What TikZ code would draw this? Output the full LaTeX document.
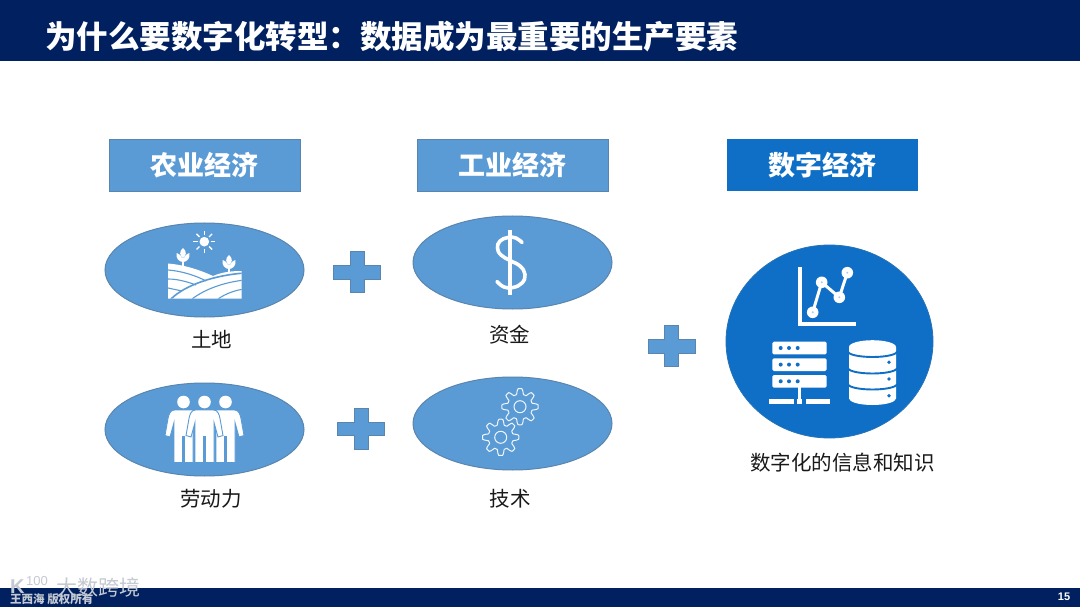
\documentclass[tikz,border=0pt]{standalone}
\usepackage{fontspec}
\setmainfont{Liberation Sans}
\newfontfamily\cjk{Noto Sans CJK SC}
\definecolor{navy}{HTML}{002060}
\definecolor{midblue}{HTML}{5B9BD5}
\definecolor{edgeblue}{HTML}{5A85AE}
\definecolor{deepblue}{HTML}{0F6FC6}
\definecolor{wmark}{HTML}{C4C9D2}
\tikzset{
  headbox/.style={minimum width=191pt,minimum height=52pt,inner sep=0pt,text=white,font=\cjk\bfseries\fontsize{27}{30}\selectfont},
  labeltext/.style={inner sep=0pt,text=black!90,font=\cjk\fontsize{20.5}{24}\selectfont},
  oval/.style={ellipse,draw=edgeblue,fill=midblue,line width=1pt,inner sep=0pt},
  plusmark/.style={fill=midblue,draw=edgeblue,line width=.7pt},
  pics/plussign/.style={code={
    \path[plusmark] (-23.5,-6.5)--(-7,-6.5)--(-7,-20.5)--(7,-20.5)--(7,-6.5)--(23.5,-6.5)--(23.5,7)--(7,7)--(7,20.5)--(-7,20.5)--(-7,7)--(-23.5,7)--cycle;
  }},
  pics/gearicon/.style={code={
    \draw[white!90!midblue,line width=1pt] plot[domain=0:360,samples=121,smooth] (\x:{15.3+2.8*max(min(1.7*cos(8*\x),1),-1)}) -- cycle;
    \draw[white!90!midblue,line width=1pt] (0,0) circle (6);
  }},
  pics/person/.style={code={
    \fill[white] (0,-27.5) circle (6.3);
    \path[fill=white,draw=midblue,line width=.9pt] (-9,-19.5)--(9,-19.5) to[out=0,in=100] (15.5,-11) -- (18.5,6) -- (13.5,7.5) -- (9.5,-7)
      -- (9.5,33) -- (.9,33) -- (.9,7) -- (-.9,7) -- (-.9,33) -- (-9.5,33) -- (-9.5,-7) -- (-13.5,7.5) -- (-18.5,6) -- (-15.5,-11) to[out=80,in=180] cycle;
  }},
}
\usetikzlibrary{shapes.geometric}
\begin{document}
\begin{tikzpicture}[x=1pt,y=-1pt]
\useasboundingbox (0,0) rectangle (1080,607);
\fill[white] (0,0) rectangle (1080,607);
\fill[navy] (0,0) rectangle (1080,61);
\fill[navy] (0,588) rectangle (1080,607);
\node[anchor=west,inner sep=0pt,text=white,font=\cjk\bfseries\fontsize{31.5}{36}\selectfont] (title) at (45,36) {为什么要数字化转型：数据成为最重要的生产要素};

% headers
\node[headbox,fill=midblue,draw=edgeblue,line width=.8pt] (h1) at (204.5,165) {农业经济};
\node[headbox,fill=midblue,draw=edgeblue,line width=.8pt] (h2) at (512.5,165) {工业经济};
\node[headbox,fill=deepblue] (h3) at (822.5,165) {数字经济};

% ovals
\node[oval,minimum width=199pt,minimum height=94pt] (land) at (204.5,270) {};
\node[oval,minimum width=199pt,minimum height=93pt] (labor) at (204.5,429.5) {};
\node[oval,minimum width=199pt,minimum height=93pt] (money) at (512.5,262.5) {};
\node[oval,minimum width=199pt,minimum height=93pt] (tech) at (512.5,423.5) {};
\node[ellipse,fill=deepblue,draw=deepblue!80!gray,line width=.8pt,inner sep=0pt,minimum width=207pt,minimum height=193pt] (data) at (829.5,341.5) {};

% labels
\node[labeltext] (l1) at (211.5,339) {土地};
\node[labeltext] (l2) at (211,499) {劳动力};
\node[labeltext] (l3) at (509.5,335) {资金};
\node[labeltext] (l4) at (510,499) {技术};
\node[labeltext] (l5) at (842.5,463) {数字化的信息和知识};

% plus signs
\pic at (357,272) {plussign};
\pic at (361,428.5) {plussign};
\pic at (671.5,346) {plussign};

% farm icon
\fill[white] (204.3,241.7) circle (4.8);
\foreach \a in {0,45,...,315}
  \draw[white,line width=1.3pt] (204.3,241.7) ++(\a:6.8) -- ++(\a:4.2);
\foreach \px/\py in {183/258,229/265}{
  \fill[white] (\px,\py-10) .. controls (\px+4,\py-7) and (\px+3.5,\py-2) .. (\px,\py) .. controls (\px-3.5,\py-2) and (\px-4,\py-7) .. (\px,\py-10) -- cycle;
  \fill[white] (\px,\py+4) .. controls (\px+.5,\py-1) and (\px+3,\py-4) .. (\px+6.5,\py-5) .. controls (\px+7.5,\py) and (\px+4,\py+4) .. (\px,\py+4) -- cycle;
  \fill[white] (\px,\py+4) .. controls (\px-.5,\py-1) and (\px-3,\py-4) .. (\px-6.5,\py-5) .. controls (\px-7.5,\py) and (\px-4,\py+4) .. (\px,\py+4) -- cycle;
  \draw[white,line width=1.8pt] (\px,\py) -- (\px,\py+9);
}
\begin{scope}
\clip (168,263.5) .. controls (185,265) and (200,270) .. (213,276) .. controls (222,272) and (232,271) .. (241.5,271) -- (241.5,298.5) -- (168,298.5) -- cycle;
\fill[white] (168,262) rectangle (242,299);
\draw[midblue,line width=1.1pt] (168,270) .. controls (182,271) and (197,276) .. (206,281);
\draw[midblue,line width=1.1pt] (168,279) .. controls (178,279) and (188,282) .. (196,285);
\draw[midblue,line width=1.1pt] (168,288) -- (182,291);
\draw[midblue,line width=1.6pt] (171,299) .. controls (185,285) and (215,275) .. (245,273);
\draw[midblue,line width=1.1pt] (192,299) .. controls (205,289) and (225,282) .. (245,280);
\draw[midblue,line width=1.1pt] (218,299) .. controls (225,294) and (235,290) .. (245,289);
\end{scope}

% people icon
\pic at (183.5,429.5) {person};
\pic at (225.5,429.5) {person};
\pic at (204.5,429.5) {person};

% dollar icon
\draw[white,line width=3.6pt,line cap=round] plot[smooth,tension=.75] coordinates {(522,242.5) (516,238) (508,237.5) (500,241) (497.5,248) (501,255) (510,260.5) (520,266) (525,274.5) (522,283) (513,287.5) (504,287) (497,281.5)};
\draw[white,line width=3.4pt] (510,230.5) -- (510,295);

% gears
\pic at (520,406.7) {gearicon};
\pic at (500.7,437.3) {gearicon};

% chart icon
\draw[white,line width=4.5pt] (800,267.3) -- (800,324) -- (855.5,324);
\coordinate (p1) at (812.7,312.3);
\coordinate (p2) at (821.7,282.3);
\coordinate (p3) at (839.3,297.3);
\coordinate (p4) at (847.3,272.7);
\draw[white,line width=3pt] (p1) -- (p2) -- (p3) -- (p4);
\foreach \p in {p1,p2,p3,p4}{
  \fill[white] (\p) circle (5.8);
  \fill[deepblue!35!white] (\p) circle (1.1);
}

% server icon
\foreach \ry in {341.7,358.3,375}{
  \fill[white,rounded corners=1.5pt] (772.3,\ry) rectangle (826.7,\ry+12.7);
  \foreach \dx in {780.7,789,797.7}
    \fill[deepblue] (\dx,\ry+6.3) circle (2);
}
\fill[white] (797.8,387) rectangle (800.8,399);
\fill[white] (769,398.5) rectangle (794,403.5);
\fill[white] (797.3,398.5) rectangle (802.3,403.5);
\fill[white] (805.7,398.5) rectangle (830,403.5);

% database icon
\fill[white] (849,347) arc[start angle=180,end angle=360,x radius=23.5,y radius=6.8] -- (896,398.5) arc[start angle=0,end angle=180,x radius=23.5,y radius=6.5] -- cycle;
\foreach \ay in {351.5,368,384}
  \draw[deepblue,line width=1.9pt] (848,\ay) arc[start angle=180,end angle=0,x radius=24.5,y radius=5.5];
\foreach \ay in {362.3,379,395.7}
  \fill[deepblue] (889,\ay) circle (1.9);

% footer
\node[anchor=west,inner sep=0pt,text=wmark,font=\cjk\bfseries\fontsize{11.5}{13}\selectfont] (owner) at (10,599.5) {王西海 版权所有};
\node[inner sep=0pt,text=white,font=\bfseries\fontsize{11}{13}\selectfont] (page) at (1064,596.5) {15};
\node[anchor=west,inner sep=0pt,text=wmark,font=\cjk\fontsize{21}{24}\selectfont] (wm) at (56,587) {大数跨境};
\node[anchor=west,inner sep=0pt,text=wmark,font=\bfseries\fontsize{20}{22}\selectfont] (wmk) at (10,587) {K};
\node[anchor=west,inner sep=0pt,text=wmark,font=\fontsize{13}{14}\selectfont] (wmn) at (26,581) {100};
\end{tikzpicture}
\end{document}
